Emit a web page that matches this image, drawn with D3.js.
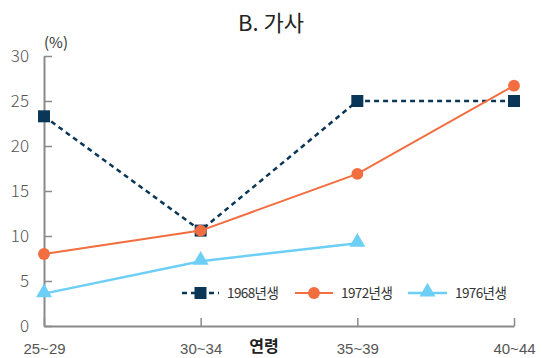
<!DOCTYPE html>
<html>
<head>
<meta charset="utf-8">
<script src="https://cdn.jsdelivr.net/npm/d3@7/dist/d3.min.js"></script>
<style>
  html, body { margin: 0; padding: 0; background: #fff; }
  svg { display: block; font-family: "Noto Sans CJK KR", "Noto Sans", sans-serif; }
</style>
</head>
<body>
<svg id="chart" width="542" height="358"></svg>
<script>
// Age groups on the x axis
const ageGroups = ["25~29", "30~34", "35~39", "40~44"];
// Share of housework (%) by birth cohort
const cohort1968 = [23.3, 10.6, 25.0, 25.0];
const cohort1972 = [8.0, 10.6, 16.9, 26.7];
const cohort1976 = [3.6, 7.2, 9.2];
const seriesNames = ["1968년생", "1972년생", "1976년생"];
const yTicks = [0, 5, 10, 15, 20, 25, 30];

const svg = d3.select("#chart");
const x0 = 44, x1 = 514, y0 = 326, y1 = 56;

const x = d3.scalePoint().domain(ageGroups).range([x0, x1]);
const y = d3.scaleLinear().domain([0, 30]).range([y0, y1]);

const axisColor = "#8a8a8a";
const textColor = "#555";

// Title
svg.append("text")
  .attr("x", 271).attr("y", 31)
  .attr("text-anchor", "middle")
  .attr("font-size", 22).attr("fill", "#222")
  .text("B. 가사");

// Unit label
svg.append("text")
  .attr("x", 56).attr("y", 48)
  .attr("text-anchor", "middle")
  .attr("font-size", 15).attr("fill", "#333")
  .text("(%)");

// Y axis
const yAxis = d3.axisLeft(y).tickValues(yTicks).tickSize(-8).tickSizeOuter(0).tickPadding(15);
const gy = svg.append("g").attr("transform", `translate(${x0},0)`).call(yAxis);
gy.select(".domain").attr("stroke", axisColor).attr("stroke-width", 2);
gy.selectAll(".tick line").attr("stroke", axisColor).attr("stroke-width", 1.5);
gy.selectAll(".tick text")
  .attr("font-size", 17).attr("fill", textColor)
  .attr("font-family", "\"Noto Sans CJK KR\", sans-serif").attr("font-weight", 300);

// X axis
const xAxis = d3.axisBottom(x).tickSize(-8).tickSizeOuter(0).tickPadding(17);
const gx = svg.append("g").attr("transform", `translate(0,${y0})`).call(xAxis);
gx.select(".domain").attr("stroke", axisColor).attr("stroke-width", 2);
gx.selectAll(".tick line").attr("stroke", axisColor).attr("stroke-width", 1.5);
gx.selectAll(".tick text")
  .attr("font-size", 15).attr("fill", textColor).attr("font-weight", 300);

// X axis title
svg.append("text")
  .attr("x", 264).attr("y", 352)
  .attr("text-anchor", "middle")
  .attr("font-size", 16).attr("font-weight", 700).attr("fill", "#222")
  .text("연령");

const colors = ["#0a3658", "#f26d3f", "#6dcff6"];
const data = [cohort1968, cohort1972, cohort1976];

const line = d3.line()
  .x((d, i) => x(ageGroups[i]))
  .y(d => y(d));

const symbols = [d3.symbolSquare, d3.symbolCircle, d3.symbolTriangle];
const symbolSizes = [144, 110, 110];

data.forEach((vals, s) => {
  const g = svg.append("g");
  g.append("path")
    .datum(vals)
    .attr("d", line)
    .attr("fill", "none")
    .attr("stroke", colors[s])
    .attr("stroke-width", s === 1 ? 2 : 2.5)
    .attr("stroke-dasharray", s === 0 ? "5,4" : null);
  g.selectAll("path.pt")
    .data(vals)
    .join("path")
    .attr("class", "pt")
    .attr("transform", (d, i) => `translate(${x(ageGroups[i])},${y(d) + (s === 2 ? -1 : 0)})`)
    .attr("d", d3.symbol().type(symbols[s]).size(symbolSizes[s]))
    .attr("fill", colors[s]);
});

// Legend
const legendItems = [
  { x: 182, w: 37 },
  { x: 295, w: 38 },
  { x: 408, w: 39 }
];
const ly = 293;
legendItems.forEach((it, s) => {
  const g = svg.append("g");
  g.append("line")
    .attr("x1", it.x).attr("x2", it.x + it.w)
    .attr("y1", ly).attr("y2", ly)
    .attr("stroke", colors[s])
    .attr("stroke-width", s === 1 ? 2 : 2.5)
    .attr("stroke-dasharray", s === 0 ? "5,4" : null);
  g.append("path")
    .attr("transform", `translate(${it.x + it.w / 2},${ly + (s === 2 ? -1 : 0)})`)
    .attr("d", d3.symbol().type(symbols[s]).size(symbolSizes[s]))
    .attr("fill", colors[s]);
  g.append("text")
    .attr("x", it.x + it.w + 8).attr("y", ly + 5)
    .attr("font-size", 13.5).attr("fill", "#333")
    .attr("letter-spacing", -0.6)
    .text(seriesNames[s]);
});
</script>
</body>
</html>
